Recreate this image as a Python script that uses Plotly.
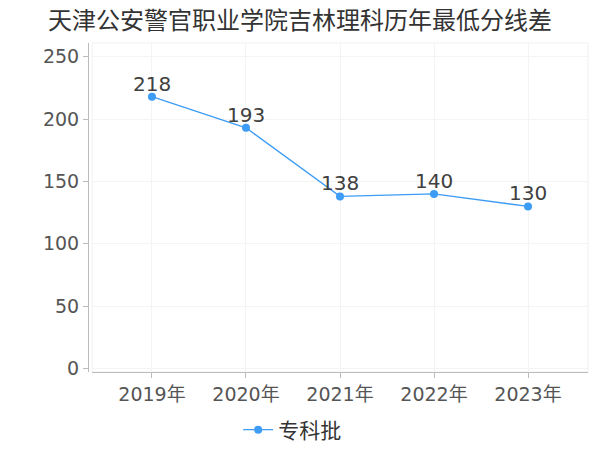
import plotly.graph_objects as go

years = ["2019年", "2020年", "2021年", "2022年", "2023年"]
values = [218, 193, 138, 140, 130]
series_name = "专科批"
title_text = "天津公安警官职业学院吉林理科历年最低分线差"

FONT = "DejaVu Sans, Noto Sans CJK SC, sans-serif"
LINE = "#3d9cf5"

# page body has an 8px margin, so the figure is sized to the visible area
W, H = 592, 442

fig = go.Figure()
fig.add_trace(go.Scatter(
    x=years, y=values, name=series_name,
    mode="lines+markers",
    line=dict(color=LINE, width=1.3),
    marker=dict(color=LINE, size=8),
))

for xv, yv in zip(years, values):
    fig.add_annotation(x=xv, y=yv, text=str(yv), showarrow=False,
                       xanchor="center", yanchor="bottom", yshift=-1,
                       font=dict(size=20, color="#404040", family=FONT))

fig.update_layout(
    width=W, height=H,
    margin=dict(l=80, r=12, t=35, b=78, autoexpand=False),
    paper_bgcolor="white", plot_bgcolor="white",
    title=dict(text=title_text, x=40 / W, xanchor="left", y=1 - 13 / H, yanchor="middle",
               font=dict(size=24, color="#333333", family=FONT)),
    font=dict(family=FONT),
    showlegend=True,
    legend=dict(orientation="h", xref="container", yref="container",
                x=0.48, xanchor="center", y=1 - 422 / H, yanchor="middle",
                font=dict(size=21, color="#333333", family=FONT),
                itemwidth=30),
    xaxis=dict(
        domain=[0.008, 1],
        type="category",
        range=[-0.638, 4.638],
        automargin=False,
        showline=True, linecolor="#bbbbbb", linewidth=1,
        ticks="outside", ticklen=5, tickcolor="#bbbbbb",
        showgrid=True, gridcolor="#f4f4f4",
        tickfont=dict(size=19, color="#555555", family=FONT),
        zeroline=False,
    ),
    yaxis=dict(
        anchor="free", position=0,
        range=[-2.8, 261],
        automargin=False,
        tickvals=[0, 50, 100, 150, 200, 250],
        showline=True, linecolor="#bbbbbb", linewidth=1,
        ticks="outside", ticklen=5, tickcolor="#bbbbbb",
        showgrid=True, gridcolor="#f4f4f4",
        tickfont=dict(size=19, color="#555555", family=FONT),
        zeroline=False,
    ),
)

fig.add_shape(type="rect", xref="paper", yref="paper", x0=0.008, x1=1, y0=0, y1=1,
              line=dict(color="#f0f0f0", width=1), layer="below")

fig.write_html("out.html")
